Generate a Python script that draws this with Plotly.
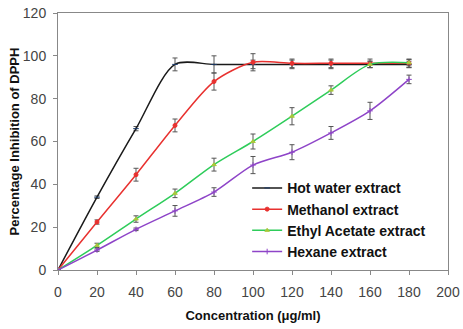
import plotly.graph_objects as go

conc = [0, 20, 40, 60, 80, 100, 120, 140, 160, 180]
hot_water = [0, 34, 66, 96, 96, 96, 96, 96, 96, 96]
methanol = [0, 22.4, 44.5, 67.5, 88, 97, 96.5, 96.5, 96.5, 96.5]
ethyl = [0, 11.5, 23.8, 35.8, 49.2, 60, 71.8, 84, 96, 96.8]
hexane = [0, 9.3, 19, 27.6, 36.4, 49, 55, 64, 74.3, 89]

err_hot = [0, 0.6, 1, 3, 4, 2, 2, 2, 1.5, 1.5]
err_met = [0, 1, 3, 3, 4, 4, 2, 2, 2, 2]
err_eth = [0, 1, 1.5, 2, 3, 3.5, 4, 2, 1.5, 1.5]
err_hex = [0, 0.6, 0.6, 2.5, 2, 4, 3.5, 3, 4, 2]

names = ["Hot water extract", "Methanol extract", "Ethyl Acetate extract", "Hexane extract"]
colors = ["#1a1a1a", "#e8312f", "#2ecc5a", "#8e44c8"]
marker_colors = ["#1a3a6a", "#e8312f", "#a8c83a", "#8e44c8"]
symbols = ["line-ew-open", "circle", "triangle-up", "cross-thin-open"]

fig = go.Figure()
series = [hot_water, methanol, ethyl, hexane]
errs = [err_hot, err_met, err_eth, err_hex]
for i in range(4):
    fig.add_trace(go.Scatter(
        x=conc, y=series[i], name=names[i], mode="lines+markers",
        line=dict(color=colors[i], width=1.5, shape="spline", smoothing=0.8),
        marker=dict(color=marker_colors[i], size=4, symbol=symbols[i],
                    line=dict(color=marker_colors[i], width=1)),
        error_y=dict(type="data", array=errs[i], visible=True,
                     color="#555555", thickness=1, width=2.5),
    ))

fig.update_layout(
    width=463, height=329,
    margin=dict(l=58, r=15, t=13, b=59),
    paper_bgcolor="white", plot_bgcolor="white",
    font=dict(family="Liberation Sans, Arial, sans-serif", color="#222222"),
    showlegend=True,
    legend=dict(x=0.485, y=0.38, xanchor="left", yanchor="top",
                bgcolor="rgba(255,255,255,0)",
                font=dict(size=14, family="Liberation Sans, Arial, sans-serif", color="#111111", weight="bold"),
                tracegroupgap=0, itemwidth=30),
    xaxis=dict(range=[0, 200], tickvals=list(range(0, 201, 20)), automargin=False,
               showgrid=False, zeroline=False, showline=True, linecolor="#888888",
               linewidth=1, mirror=True, ticks="outside", ticklen=4, tickcolor="#888888",
               ticklabelstandoff=5,
               tickfont=dict(size=14, color="#444444"),
               title=dict(text="<b>Concentration (μg/ml)</b>", font=dict(size=13, color="#111111"), standoff=12)),
    yaxis=dict(range=[0, 120], tickvals=list(range(0, 121, 20)), automargin=False,
               showgrid=False, zeroline=False, showline=True, linecolor="#888888",
               linewidth=1, mirror=True, ticks="outside", ticklen=4, tickcolor="#888888",
               ticklabelstandoff=4,
               tickfont=dict(size=14, color="#444444"),
               title=dict(text="<b>Percentage Inhibition of DPPH</b>", font=dict(size=13, color="#111111"), standoff=0)),
)

fig.write_html("out.html")
